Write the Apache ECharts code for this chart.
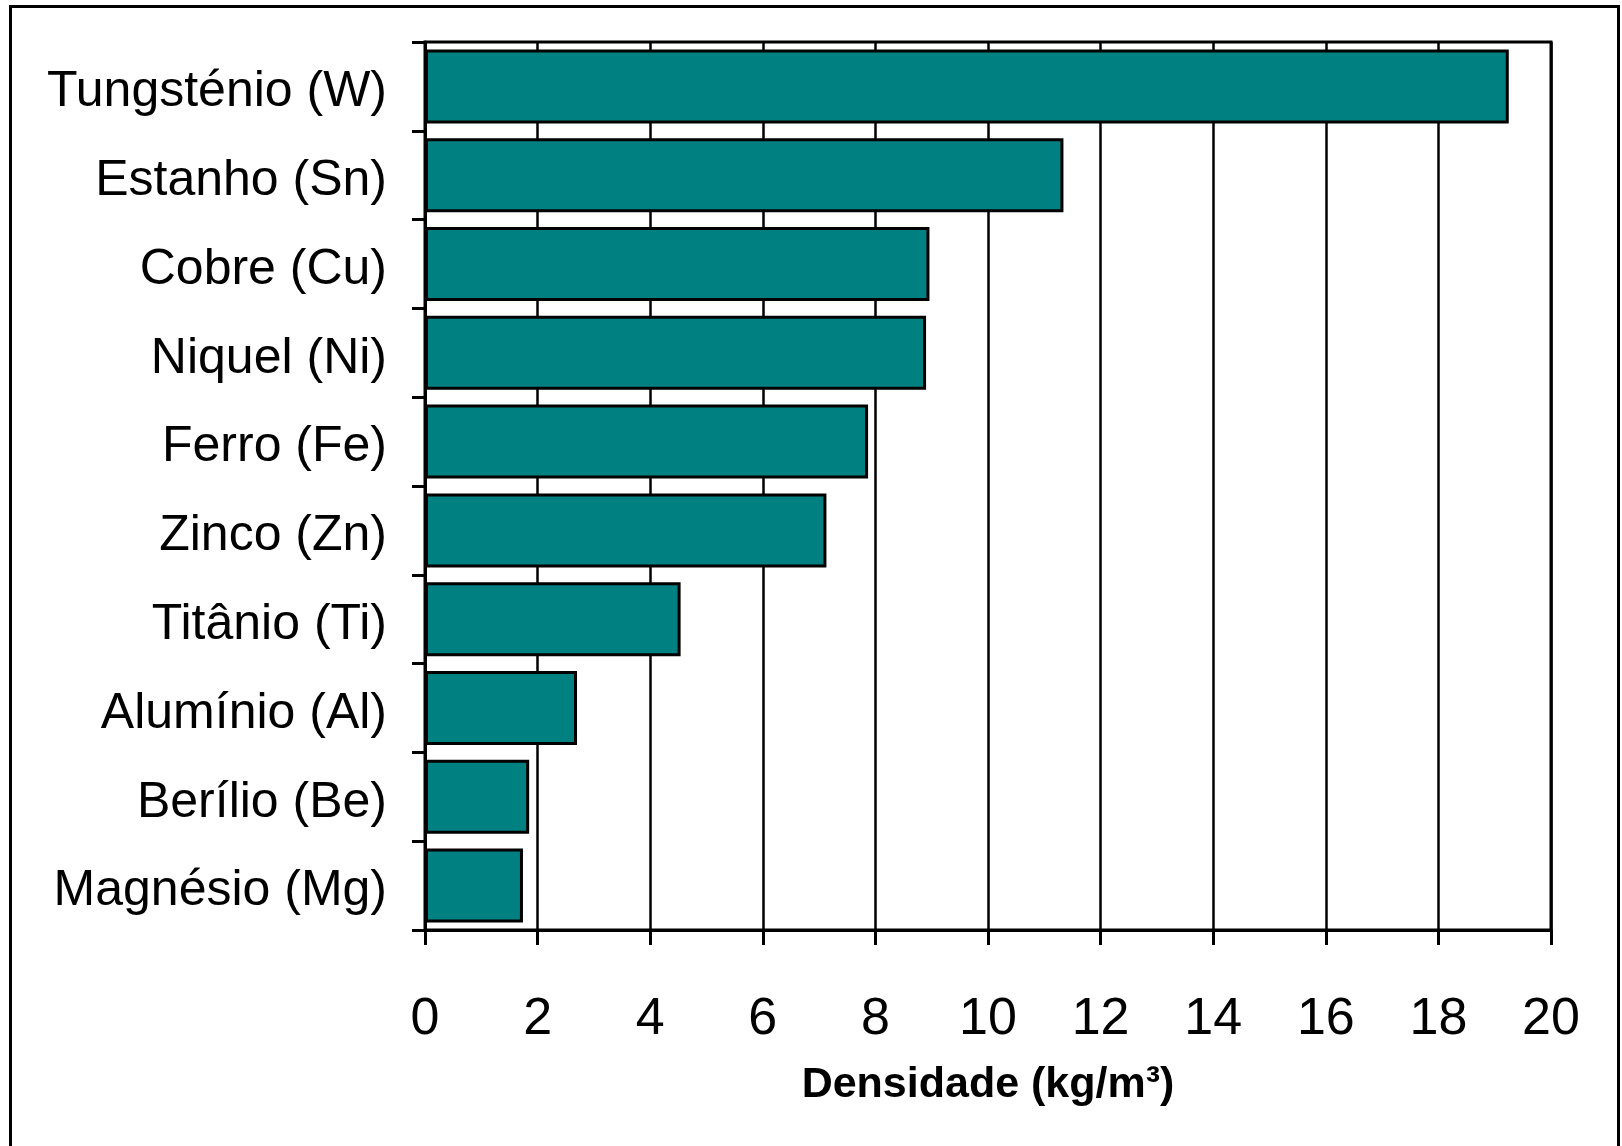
<!DOCTYPE html>
<html>
<head>
<meta charset="utf-8">
<script src="https://cdn.jsdelivr.net/npm/echarts@6/dist/echarts.min.js"></script>
<style>
  html, body { margin: 0; padding: 0; background: #fff; }
  #chart { width: 1622px; height: 1146px; }
</style>
</head>
<body>
<div id="chart"></div>
<script>
// Metals, listed top to bottom
const metals = [
  'Tungsténio (W)', 'Estanho (Sn)', 'Cobre (Cu)', 'Niquel (Ni)', 'Ferro (Fe)',
  'Zinco (Zn)', 'Titânio (Ti)', 'Alumínio (Al)', 'Berílio (Be)', 'Magnésio (Mg)'
];
// Density of each metal
const density = [19.25, 11.34, 8.96, 8.9, 7.87, 7.13, 4.54, 2.7, 1.85, 1.74];
// Horizontal axis range and step
const xMin = 0, xMax = 20, xStep = 2;
const xTitle = 'Densidade (kg/m³)';

const FONT = '"Liberation Sans", Arial, sans-serif';
const chart = echarts.init(document.getElementById('chart'), null, { renderer: 'canvas' });

chart.setOption({
  backgroundColor: '#ffffff',
  animation: false,
  graphic: [{
    type: 'rect',
    shape: { x: 10.5, y: 6.5, width: 1608, height: 1200 },
    style: { fill: 'none', stroke: '#000', lineWidth: 3 },
    silent: true
  }],
  grid: {
    left: 425, right: 71, top: 42, bottom: 216,
    show: true, borderColor: '#000', borderWidth: 3, backgroundColor: 'transparent'
  },
  xAxis: {
    type: 'value',
    min: xMin, max: xMax, interval: xStep,
    name: xTitle,
    nameLocation: 'middle',
    nameGap: 134,
    nameTextStyle: { fontFamily: FONT, fontSize: 43, fontWeight: 'bold', color: '#000' },
    axisLine: { show: true, lineStyle: { color: '#000', width: 3 } },
    axisTick: { show: true, inside: false, length: 15, lineStyle: { color: '#000', width: 3 } },
    axisLabel: { fontFamily: FONT, fontSize: 52, color: '#000', margin: 64 },
    splitLine: { show: true, lineStyle: { color: '#000', width: 2.5 } }
  },
  yAxis: {
    type: 'category',
    data: metals,
    inverse: true,
    axisLine: { show: true, lineStyle: { color: '#000', width: 3 } },
    axisTick: { show: true, inside: false, length: 13, lineStyle: { color: '#000', width: 3 } },
    // a short line box hung from the band centre nudges each name slightly lower
    axisLabel: { fontFamily: FONT, fontSize: 50, color: '#000', margin: 38, verticalAlign: 'top', lineHeight: 12 },
    splitLine: { show: false }
  },
  series: [{
    type: 'bar',
    data: density,
    barCategoryGap: '16.7%',
    itemStyle: { color: '#008080', borderColor: '#000', borderWidth: 3 }
  }]
});
</script>
</body>
</html>
